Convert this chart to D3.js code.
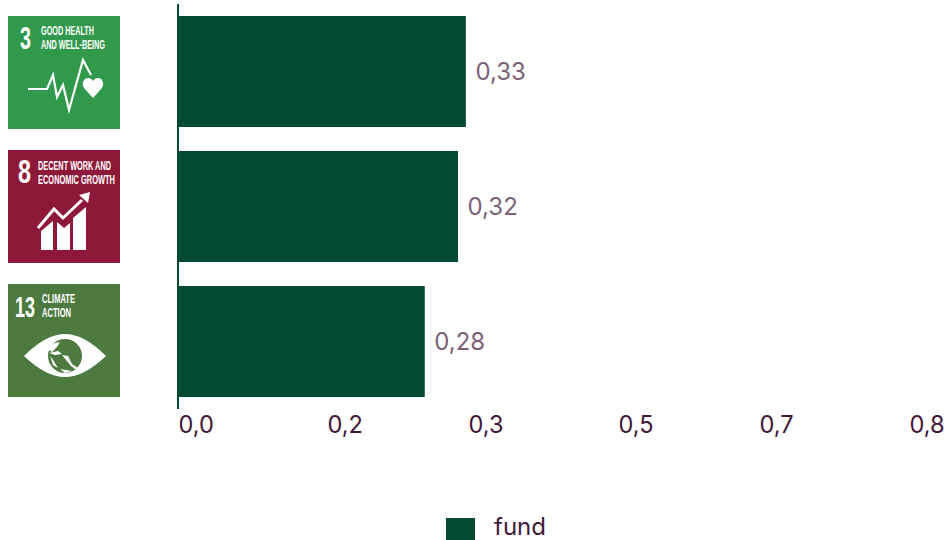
<!DOCTYPE html>
<html>
<head>
<meta charset="utf-8">
<script src="https://cdn.jsdelivr.net/npm/d3@7"></script>
<style>
  html, body { margin: 0; padding: 0; background: #fff; }
  svg { display: block; font-family: Inter, "Noto Sans", sans-serif; }
  .icon-text { font-family: "Liberation Sans Narrow", "Liberation Sans", sans-serif; font-weight: 700; fill: #fff; }
</style>
</head>
<body>
<div id="chart"></div>
<script>
const goals = ["3", "8", "13"];
const fund = [0.329, 0.32, 0.282];
const tickValues = [0, 0.1703, 0.3315, 0.5029, 0.664, 0.8355];
const tickLabels = ["0,0", "0,2", "0,3", "0,5", "0,7", "0,8"];
const legendLabel = "fund";

const width = 944;
const height = 540;
const barColor = "#024a30";

const svg = d3.select("#chart").append("svg")
  .attr("width", width)
  .attr("height", height);

const x = d3.scaleLinear().domain([0, 1]).range([178, 1053]);
const y = d3.scaleBand().domain(goals).range([16, 397]).paddingInner(24 / 135);

const comma = v => d3.format(".2f")(v).replace(".", ",");

// bars
svg.append("g").selectAll("rect")
  .data(fund)
  .join("rect")
  .attr("x", x(0))
  .attr("y", (d, i) => y(goals[i]))
  .attr("width", d => x(d) - x(0))
  .attr("height", y.bandwidth())
  .attr("fill", barColor);

// value labels
svg.append("g").selectAll("text")
  .data(fund)
  .join("text")
  .attr("x", d => x(d) + 9.5)
  .attr("y", (d, i) => y(goals[i]) + y.bandwidth() / 2 + 8)
  .attr("font-size", 24)
  .attr("fill", "#7d6078")
  .text(comma);

// axes
const axisY = svg.append("g").attr("transform", `translate(${x(0)},0)`)
  .call(d3.axisLeft(y).tickSize(0).tickFormat(""));
axisY.select(".domain").attr("d", "M0,4V409").attr("stroke", barColor).attr("stroke-width", 2);

const axisX = svg.append("g").attr("transform", "translate(0,409)")
  .call(d3.axisBottom(x).tickValues(tickValues).tickSize(0).tickFormat((d, i) => tickLabels[i]));
axisX.select(".domain").remove();
axisX.selectAll("text")
  .attr("text-anchor", "start")
  .attr("y", 7.5)
  .attr("dy", "0.71em")
  .attr("font-family", "Inter, sans-serif")
  .attr("font-size", 23.6)
  .attr("fill", "#41183a");

// SDG icons, drawn in their own 112x113 box
const iconBox = [
  { goal: "3", dy: 0, color: "#31994c" },
  { goal: "8", dy: -1, color: "#8e1838" },
  { goal: "13", dy: -2, color: "#4c7a3f" }
];
const icons = svg.append("g").selectAll("g")
  .data(iconBox)
  .join("g")
  .attr("transform", d => `translate(8,${y(d.goal) + d.dy})`);
icons.append("rect").attr("width", 112).attr("height", 113).attr("fill", d => d.color);

function iconText(g, txt, tx, ty, size, len) {
  g.append("text").attr("class", "icon-text")
    .attr("x", tx).attr("y", ty).attr("font-size", size)
    .attr("textLength", len).attr("lengthAdjust", "spacingAndGlyphs")
    .text(txt);
}

const g3 = icons.filter(d => d.goal === "3");
iconText(g3, "3", 12, 33, 31, 11);
iconText(g3, "GOOD HEALTH", 33, 19, 12, 53);
iconText(g3, "AND WELL-BEING", 33, 33, 12, 64);
g3.append("path")
  .attr("d", "M20,73H39L45,59L49,81L55,69L61,94L75,44L83,59")
  .attr("fill", "none").attr("stroke", "#fff").attr("stroke-width", 2.2);
g3.append("path")
  .attr("d", "M85,82L76,72C73,67 76,62 80,62C82,62 84,63 85,65C86,63 88,62 90,62C94,62 97,67 94,72Z")
  .attr("fill", "#fff");

const g8 = icons.filter(d => d.goal === "8");
iconText(g8, "8", 10, 33, 33, 13);
iconText(g8, "DECENT WORK AND", 30, 20, 12, 73);
iconText(g8, "ECONOMIC GROWTH", 30, 34, 12, 77);
g8.append("path")
  .attr("d", "M33,100V81L45,71V100ZM49,100V72L56,78L62,73V100ZM65,100V68L78,57V100Z")
  .attr("fill", "#fff");
g8.append("path")
  .attr("d", "M30,78L46,59L55,68L74,50")
  .attr("fill", "none").attr("stroke", "#fff").attr("stroke-width", 3);
g8.append("path").attr("d", "M82,42L71,45L80,53Z").attr("fill", "#fff");

const g13 = icons.filter(d => d.goal === "13");
iconText(g13, "13", 7, 33, 29, 20);
iconText(g13, "CLIMATE", 34, 19, 12, 33);
iconText(g13, "ACTION", 34, 33, 12, 29);
g13.append("path")
  .attr("d", "M16,72Q38,50 57,50Q76,50 98,72Q76,93 57,93Q38,93 16,72Z")
  .attr("fill", "#fff");
g13.append("circle").attr("cx", 57).attr("cy", 72).attr("r", 17).attr("fill", d => d.color);
g13.append("path")
  .attr("d", "M41,62L47,59L52,58L49,63L44,68L41,66ZM41,69L50,67L54,70L47,71ZM42,72L45,76L50,84L45,81ZM54,71L60,72L64,80L70,84L72,79L70,87L63,82ZM52,85L64,87L57,89Z")
  .attr("fill", "#fff");

// legend
const legend = svg.append("g").attr("transform", "translate(446,518)");
legend.append("rect").attr("width", 29).attr("height", 22).attr("fill", barColor);
legend.append("text")
  .attr("x", 48).attr("y", 17)
  .attr("font-size", 24)
  .attr("fill", "#41183a")
  .text(legendLabel);
</script>
</body>
</html>
